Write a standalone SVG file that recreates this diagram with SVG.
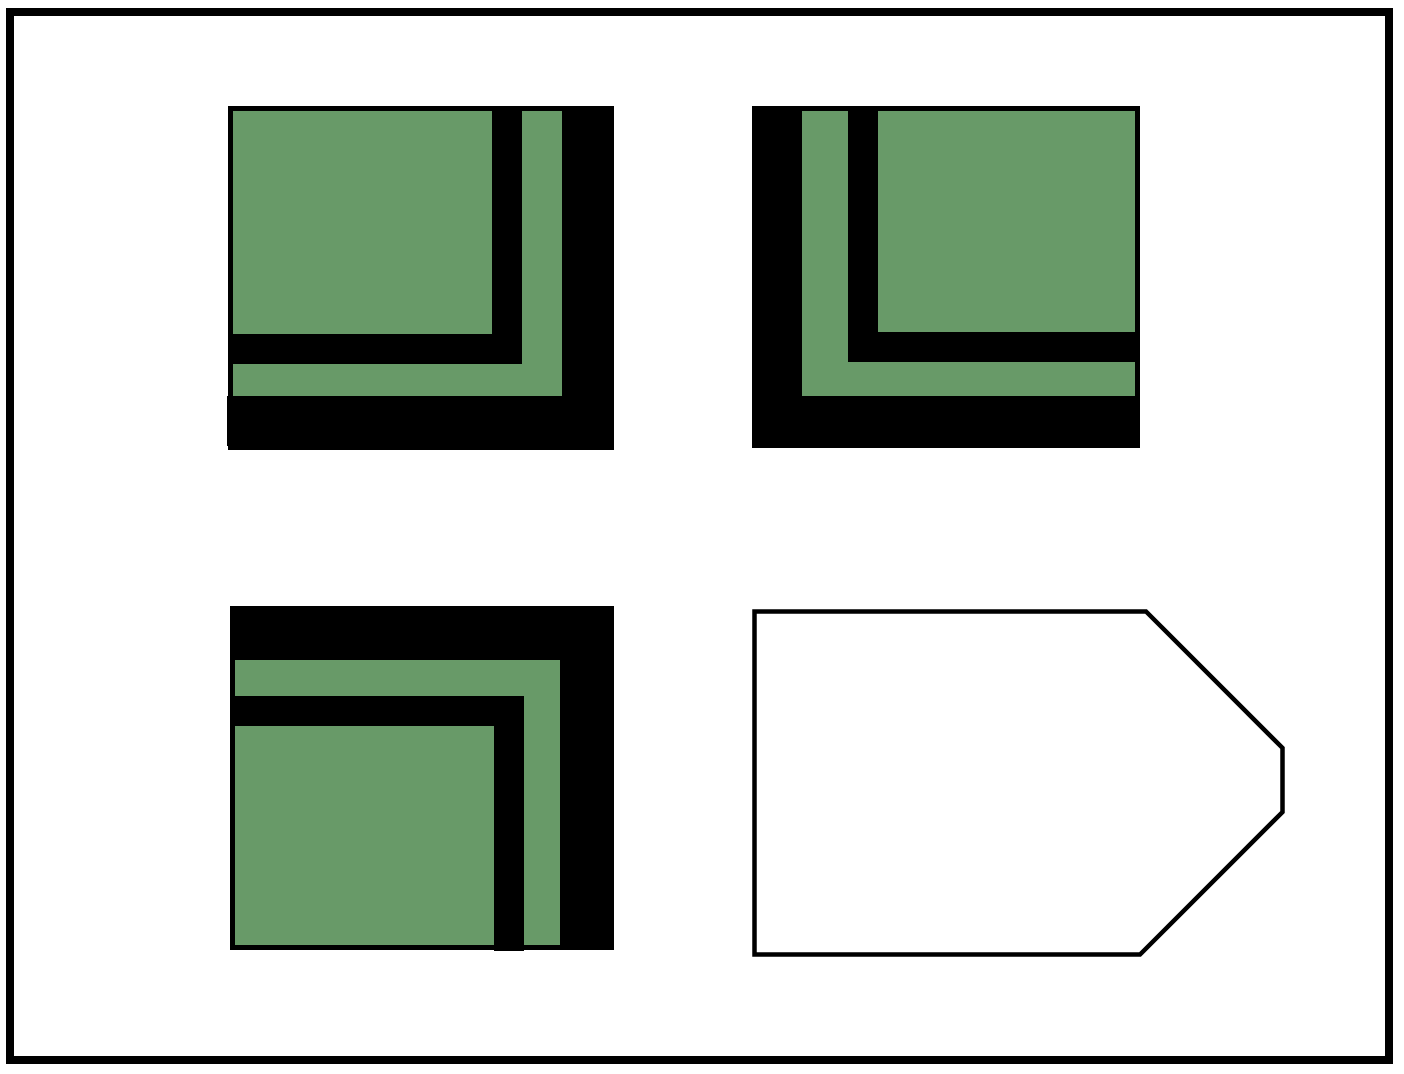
<svg xmlns="http://www.w3.org/2000/svg" width="1404" height="1074" viewBox="0 0 1404 1074">
<style>
.blk{fill:#000000}
.grn{fill:#689A68}
.frame{fill:none;stroke:#000000;stroke-width:8}
.tag{fill:#FFFFFF;stroke:#000000;stroke-width:4.5;stroke-linejoin:miter}
</style>
<rect x="0" y="0" width="1404" height="1074" fill="#FFFFFF"/>
<rect class="frame" x="10" y="12" width="1379" height="1048"/>
<g id="shape-top-left">
<rect class="blk" x="228" y="106" width="386" height="344"/>
<rect class="blk" x="227" y="396" width="2" height="50"/>
<rect class="grn" x="233" y="111" width="329" height="285"/>
<rect class="blk" x="228" y="111" width="294" height="253"/>
<rect class="grn" x="233" y="111" width="259" height="223"/>
</g>
<g id="shape-top-right">
<rect class="blk" x="752" y="106" width="388" height="342"/>
<rect class="grn" x="802" y="111" width="333" height="285"/>
<rect class="blk" x="848" y="111" width="292" height="251"/>
<rect class="grn" x="878" y="111" width="257" height="221"/>
</g>
<g id="shape-bottom-left">
<rect class="blk" x="230" y="606" width="384" height="344"/>
<rect class="grn" x="235" y="660" width="325" height="285"/>
<rect class="blk" x="230" y="696" width="294" height="254"/>
<rect class="blk" x="494" y="945" width="30" height="6"/>
<rect class="grn" x="235" y="726" width="259" height="219"/>
</g>
<g id="shape-bottom-right">
<polygon class="tag" points="754.5,611.5 1146,611.5 1282.5,748 1282.5,812 1140,954.5 754.5,954.5"/>
</g>
<g id="connectors"></g>
</svg>
